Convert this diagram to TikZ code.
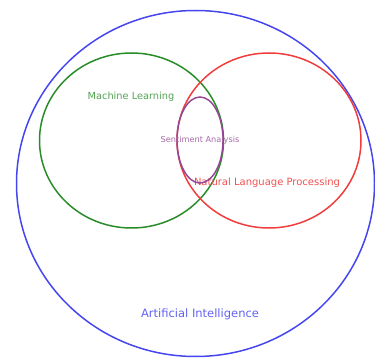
\documentclass[tikz,border=0pt]{standalone}
\usepackage{fontspec}
\setmainfont{DejaVu Sans}
\usepackage{tikz}
\usepackage{xcolor}

\definecolor{aiblue}{RGB}{70,70,240}
\definecolor{mlgreen}{RGB}{40,140,40}
\definecolor{nlpred}{RGB}{240,60,60}
\definecolor{sapurple}{RGB}{130,40,130}

\tikzset{
  set/.style={line width=1.5pt},
  setlabel/.style={font=\fontsize{9.8}{11}\selectfont, inner sep=0pt}
}

\begin{document}
\begin{tikzpicture}[x=1pt,y=-1pt]
    \useasboundingbox (0,0) rectangle (375,358);

    % Artificial Intelligence
    \draw[set,aiblue] (195.5,183.5) ellipse [x radius=179, y radius=173];
    \node[setlabel,font=\fontsize{11.5}{13}\selectfont,text=aiblue!85] (ai) at (200,314) {Artificial Intelligence};

    % Machine Learning
    \draw[set,mlgreen] (131.5,140.5) ellipse [x radius=92, y radius=87.5];
    \node[setlabel,text=mlgreen!80] (ml) at (131,97) {Machine Learning};

    % Natural Language Processing
    \draw[set,nlpred] (269,140.5) ellipse [x radius=92, y radius=87.5];
    \node[setlabel,font=\fontsize{10}{12}\selectfont,text=nlpred!90] (nlp) at (267,183) {Natural Language Processing};

    % Sentiment Analysis
    \draw[set,sapurple!85] (200,140) ellipse [x radius=23, y radius=43];
    \node[setlabel,font=\fontsize{8.2}{10}\selectfont,text=sapurple!70] (sa) at (200,140) {Sentiment Analysis};

\end{tikzpicture}
\end{document}
